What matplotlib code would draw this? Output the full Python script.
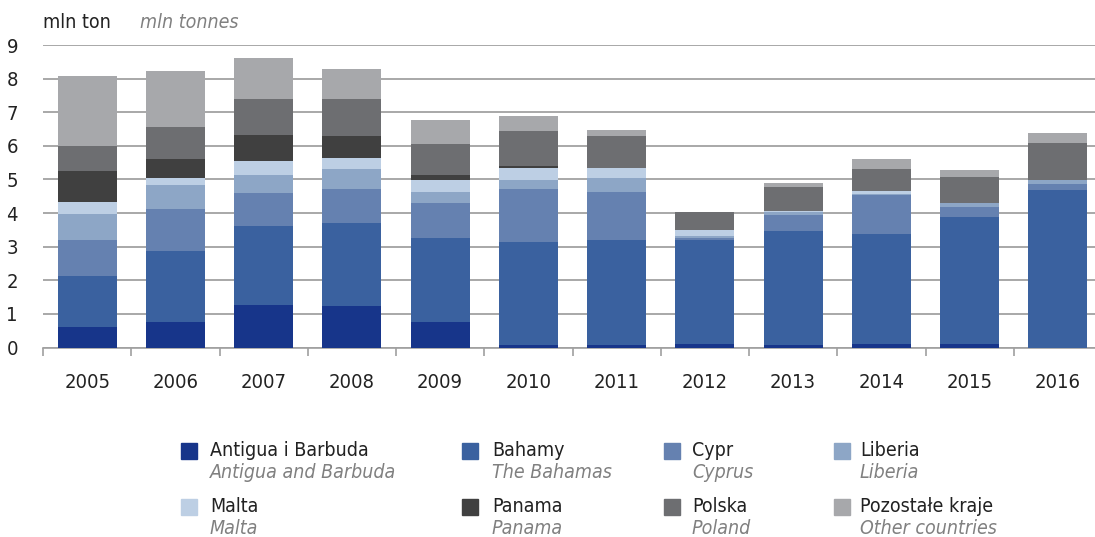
import numpy as np
import matplotlib.pyplot as plt
from matplotlib.patches import Rectangle

plt.rcParams['font.family'] = ['DejaVu Sans']
plt.rcParams['font.stretch'] = 'condensed'

years = ["2005", "2006", "2007", "2008", "2009", "2010",
         "2011", "2012", "2013", "2014", "2015", "2016"]

antigua = [0.61, 0.755, 1.26, 1.23, 0.76, 0.06, 0.06, 0.09, 0.06, 0.09, 0.09, 0.0]
bahamy = [1.52, 2.115, 2.355, 2.47, 2.50, 3.08, 3.14, 3.11, 3.41, 3.29, 3.79, 4.68]
cypr = [1.07, 1.25, 0.985, 1.02, 1.04, 1.57, 1.42, 0.05, 0.47, 1.15, 0.30, 0.18]
liberia = [0.77, 0.72, 0.53, 0.59, 0.33, 0.27, 0.42, 0.07, 0.09, 0.03, 0.12, 0.12]
malta = [0.36, 0.20, 0.42, 0.33, 0.36, 0.36, 0.30, 0.18, 0.03, 0.09, 0.0, 0.0]
panama = [0.92, 0.57, 0.78, 0.66, 0.15, 0.06, 0.0, 0.0, 0.0, 0.0, 0.0, 0.0]
polska = [0.75, 0.95, 1.07, 1.10, 0.90, 1.04, 0.95, 0.52, 0.71, 0.66, 0.77, 1.10]
pozostale = [2.08, 1.67, 1.22, 0.89, 0.74, 0.44, 0.18, 0.02, 0.12, 0.29, 0.21, 0.30]

series = [antigua, bahamy, cypr, liberia, malta, panama, polska, pozostale]
names_pl = ["Antigua i Barbuda", "Bahamy", "Cypr", "Liberia",
            "Malta", "Panama", "Polska", "Pozostałe kraje"]
names_en = ["Antigua and Barbuda", "The Bahamas", "Cyprus", "Liberia",
            "Malta", "Panama", "Poland", "Other countries"]
colors = ["#17358a", "#3a619f", "#6581b0", "#8da6c6",
          "#bdcfe4", "#404040", "#6d6e71", "#a7a8ab"]

W, H = 1095, 537
fig = plt.figure(figsize=(W / 100, H / 100), dpi=100)
# axes: x from 43 px to ~1102 px (slightly past the image edge), y 0 at 347.5, 9 at 45
ax = fig.add_axes([43 / W, (H - 347.5) / H, (1102 - 43) / W, (347.5 - 45) / H])

x = np.arange(len(years))
bottom = np.zeros(len(years))
for vals, c in zip(series, colors):
    ax.bar(x, vals, 0.67, bottom=bottom, color=c, zorder=3)
    bottom += np.array(vals)

ax.set_xlim(-0.5, len(years) - 0.5)
ax.set_ylim(0, 9)
ax.set_yticks(range(10))
ax.yaxis.grid(True, color="#9a9a9a", linewidth=1.2, zorder=0)
ax.set_axisbelow(True)
for s in ["top", "right", "left"]:
    ax.spines[s].set_visible(False)
ax.spines["bottom"].set_color("#a0a0a0")
ax.spines["bottom"].set_linewidth(1.2)

ax.set_xticks(x)
ax.set_xticklabels(years)
ax.set_xticks(np.arange(-0.5, len(years), 1), minor=True)
ax.tick_params(axis="x", which="major", length=0, pad=18, labelsize=14.5, labelcolor="#222222")
ax.tick_params(axis="x", which="minor", length=6, width=1.2, color="#a0a0a0")
ax.tick_params(axis="y", length=0, pad=18, labelsize=14.5, labelcolor="#222222")

fig.text(43 / W, 1 - 22 / H, "mln ton", fontsize=14, color="#222222", va="center")
fig.text(140 / W, 1 - 22 / H, "mln tonnes", fontsize=14, color="#808080",
         style="italic", va="center")

# legend
sq_x = [181, 462, 664, 834]
txt_x = [210, 492, 692, 860]
row_y = [451, 507]
for i in range(8):
    col, row = i % 4, i // 4
    y0 = row_y[row]
    fig.patches.append(Rectangle((sq_x[col] / W, 1 - (y0 + 8) / H), 16 / W, 16 / H,
                                 transform=fig.transFigure, color=colors[i]))
    fig.text(txt_x[col] / W, 1 - y0 / H, names_pl[i], fontsize=14,
             color="#222222", va="center")
    fig.text(txt_x[col] / W, 1 - (y0 + 21) / H, names_en[i], fontsize=14,
             color="#808080", style="italic", va="center")

fig.savefig("out.png", dpi=100)
